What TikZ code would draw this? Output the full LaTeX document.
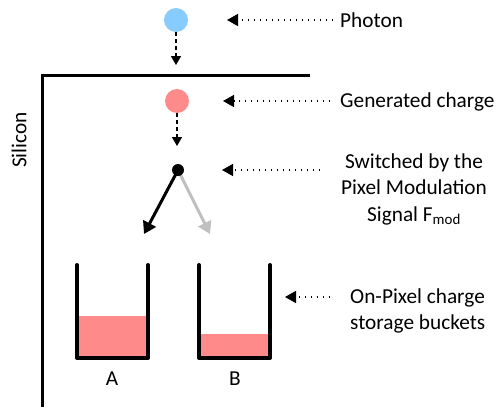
\documentclass[tikz,border=0pt]{standalone}
\usepackage{fontspec}
\setmainfont{Carlito}
\usetikzlibrary{arrows.meta}
\definecolor{photonblue}{HTML}{87CBFF}
\definecolor{chargered}{HTML}{FF8A8A}
\definecolor{switchgray}{HTML}{C0C0C0}
\tikzset{
  pointer/.style={line width=1.5pt, dash pattern=on 1.4pt off 4.6pt, -{Triangle[length=11pt,width=12pt]}},
  flow/.style={line width=1.4pt, dash pattern=on 4pt off 3pt, -{Triangle[length=9pt,width=10pt]}},
  branch/.style={line width=3pt, -{Triangle[length=12pt,width=14pt]}},
  wall/.style={line width=3pt},
  bucket/.style={line width=4pt, line cap=round, line join=round},
  txt/.style={font=\fontsize{21.3}{26.5}\selectfont, inner sep=0pt},
  label/.style={txt, anchor=west}
}
\begin{document}
\begin{tikzpicture}[x=1pt,y=-1pt]
\useasboundingbox (0,0) rectangle (500,407);

% silicon boundary
\draw[wall] (310,75) -- (42,75) -- (42,407);
\node[txt, rotate=90] (si) at (19,140) {Silicon};

% switch branches, drawn beneath the switch point
\coordinate (swc) at (178,170);
\coordinate (ta) at (144,234);
\coordinate (tb) at (210,234);
\draw[branch, switchgray] (swc) -- (tb);
\draw[branch, black] (swc) -- (ta);

% photon, generated charge and switch point
\node[circle, fill=photonblue, minimum size=24pt, inner sep=0pt] (ph) at (176,20) {};
\node[circle, fill=chargered, minimum size=24pt, inner sep=0pt] (gc) at (177,101) {};
\node[circle, fill=black, minimum size=12pt, inner sep=0pt] (sw) at (swc) {};
\coordinate (phend) at (176,65);
\coordinate (gcend) at (177,146);
\draw[flow] (ph) -- (phend);
\draw[flow] (gc) -- (gcend);

% buckets
\fill[chargered] (79,316) rectangle (146,356);
\fill[chargered] (201,334) rectangle (268,356);
\draw[bucket] (77,265) -- (77,358) -- (148,358) -- (148,265);
\draw[bucket] (199,265) -- (199,358) -- (270,358) -- (270,265);
\node[txt] (la) at (112,379) {A};
\node[txt] (lb) at (235,379) {B};

% annotations
\node[label] (tph) at (340,20) {Photon};
\node[label] (tgc) at (340,102) {Generated charge};
\node[txt, align=center] (tsw) at (414,189)
  {Switched by the\\Pixel Modulation\\Signal F\textsubscript{mod}};
\node[label, align=left] (tbk) at (350,311) {On-Pixel charge\\storage buckets};

\coordinate (aph) at (227,20);
\coordinate (agc) at (223,101);
\coordinate (asw) at (222,170);
\coordinate (abk) at (285,297);
\draw[pointer] (333,20) -- (aph);
\draw[pointer] (330,101) -- (agc);
\draw[pointer] (320,170) -- (asw);
\draw[pointer] (330,297) -- (abk);
\end{tikzpicture}
\end{document}
